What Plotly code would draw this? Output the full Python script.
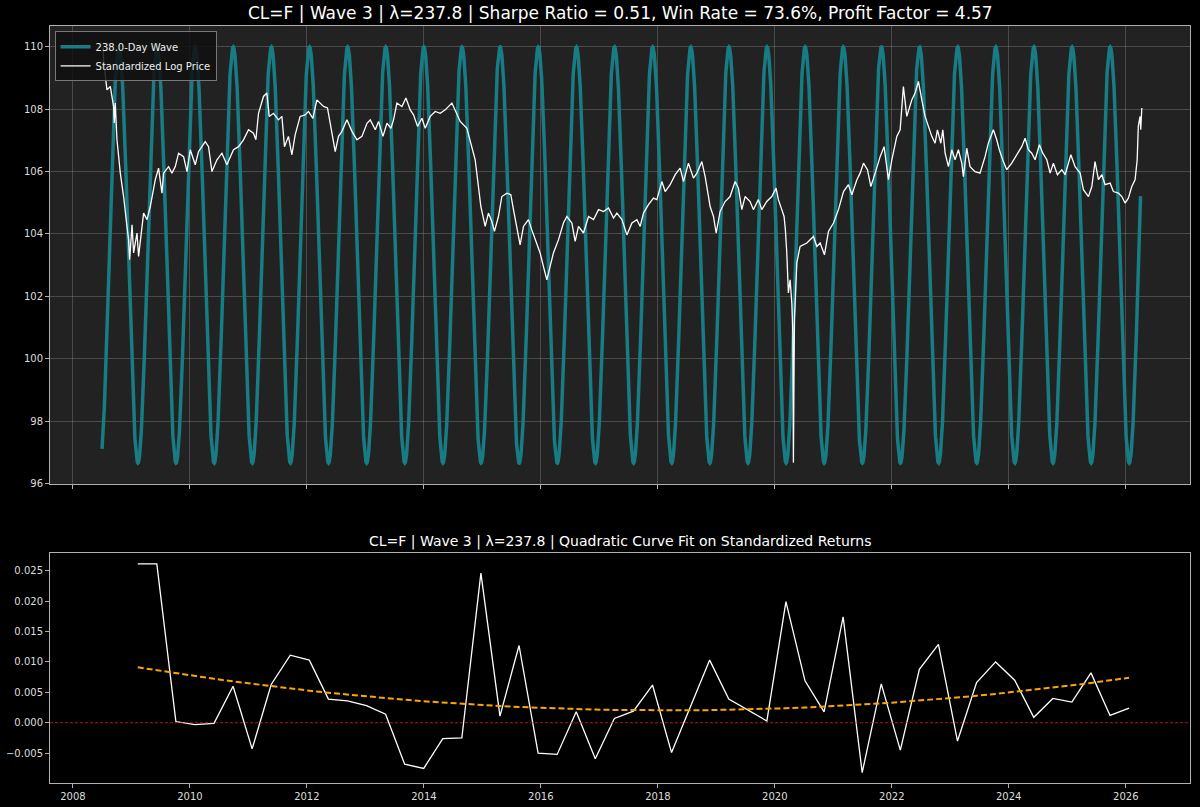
import numpy as np
import pandas as pd
import plotly.graph_objects as go

# ---------------- data ----------------
PRICE_YEARS = [
    2008.518, 2008.523, 2008.581, 2008.638, 2008.694, 2008.706, 2008.723, 2008.752, 2008.809, 2008.838,
    2008.865, 2008.923, 2008.950, 2008.968, 2009.009, 2009.036, 2009.094, 2009.121, 2009.150, 2009.207,
    2009.265, 2009.321, 2009.407, 2009.463, 2009.521, 2009.549, 2009.634, 2009.692, 2009.749, 2009.805,
    2009.891, 2009.949, 2010.005, 2010.091, 2010.147, 2010.262, 2010.318, 2010.376, 2010.462, 2010.547,
    2010.632, 2010.745, 2010.831, 2010.916, 2011.002, 2011.087, 2011.128, 2011.173, 2011.258, 2011.316,
    2011.356, 2011.429, 2011.515, 2011.573, 2011.617, 2011.685, 2011.744, 2011.800, 2011.885, 2011.971,
    2012.027, 2012.103, 2012.171, 2012.284, 2012.352, 2012.410, 2012.484, 2012.540, 2012.598, 2012.684,
    2012.769, 2012.855, 2012.940, 2013.026,
    2013.082, 2013.168, 2013.224, 2013.299, 2013.368, 2013.436, 2013.480, 2013.538, 2013.624, 2013.692,
    2013.766, 2013.822, 2013.891, 2013.966, 2014.022, 2014.108, 2014.193, 2014.279, 2014.364, 2014.479,
    2014.564, 2014.621, 2014.735, 2014.791, 2014.877, 2014.933, 2014.974, 2015.048, 2015.104, 2015.162,
    2015.207, 2015.275, 2015.333, 2015.419, 2015.487, 2015.532, 2015.590, 2015.646, 2015.703, 2015.788,
    2015.846, 2015.903, 2015.988, 2016.044, 2016.103, 2016.159, 2016.215, 2016.301, 2016.386, 2016.444,
    2016.530, 2016.586, 2016.643, 2016.728, 2016.814, 2016.899, 2016.985, 2017.070, 2017.155, 2017.241,
    2017.299, 2017.385, 2017.470, 2017.556, 2017.641, 2017.697,
    2017.754, 2017.839, 2017.925, 2017.983, 2018.068, 2018.125, 2018.210, 2018.296, 2018.381, 2018.438,
    2018.523, 2018.609, 2018.667, 2018.752, 2018.809, 2018.894, 2018.951, 2018.997, 2019.065, 2019.150,
    2019.236, 2019.321, 2019.378, 2019.436, 2019.492, 2019.578, 2019.634, 2019.720, 2019.778, 2019.863,
    2019.949, 2020.022, 2020.062, 2020.120, 2020.159, 2020.181, 2020.205, 2020.232, 2020.262, 2020.291,
    2020.308, 2020.318, 2020.335, 2020.376, 2020.432, 2020.547, 2020.660, 2020.718, 2020.774, 2020.848,
    2020.916, 2021.002, 2021.087, 2021.173, 2021.258, 2021.316, 2021.402, 2021.458, 2021.515, 2021.583,
    2021.641, 2021.715, 2021.800, 2021.868, 2021.942, 2022.000, 2022.085,
    2022.142, 2022.198, 2022.256, 2022.342, 2022.398, 2022.455, 2022.513, 2022.569, 2022.626, 2022.684,
    2022.740, 2022.780, 2022.838, 2022.872, 2022.912, 2022.968, 2023.026, 2023.082, 2023.139, 2023.197,
    2023.224, 2023.282, 2023.338, 2023.424, 2023.509, 2023.595, 2023.651, 2023.737, 2023.795, 2023.839,
    2023.908, 2023.966, 2024.051, 2024.137, 2024.222, 2024.279, 2024.335, 2024.393, 2024.450, 2024.523,
    2024.581, 2024.650, 2024.706, 2024.762, 2024.831, 2024.906, 2024.962, 2025.019, 2025.060, 2025.133,
    2025.219, 2025.275, 2025.361, 2025.419, 2025.474, 2025.532, 2025.590, 2025.646, 2025.732, 2025.788,
    2025.874, 2025.932, 2025.988, 2026.044, 2026.103, 2026.159, 2026.195, 2026.214, 2026.244, 2026.256,
    2026.274,
]
PRICE_VALUES = [
    110.00, 109.58, 108.62, 108.73, 108.09, 107.56, 108.20, 107.02, 105.95, 105.63,
    105.20, 104.24, 103.81, 103.17, 104.29, 103.39, 104.03, 103.28, 103.81, 104.67,
    104.46, 104.88, 105.74, 106.11, 105.31, 105.95, 106.16, 105.95, 106.16, 106.59,
    106.48, 106.00, 106.70, 106.22, 106.64, 106.96, 106.80, 106.00, 106.38, 106.59,
    106.22, 106.70, 106.80, 107.02, 107.34, 107.23, 107.02, 107.87, 108.41, 108.52,
    107.77, 107.87, 107.66, 107.77, 106.80, 107.13, 106.54, 107.18, 107.77, 107.82,
    107.93, 107.71, 108.30, 108.09, 108.04, 107.45, 106.64, 107.13, 107.29, 107.66,
    107.29, 107.02, 107.13, 107.55,
    107.66, 107.34, 107.61, 107.13, 107.55, 107.39, 107.66, 108.20, 108.09, 108.36,
    107.98, 107.82, 107.45, 107.71, 107.39, 107.77, 107.93, 107.87, 107.98, 108.20,
    107.87, 107.61, 107.39, 106.96, 106.38, 105.52, 104.88, 104.24, 104.67, 104.40,
    104.08, 104.56, 105.20, 105.31, 105.26, 104.78, 104.24, 103.65, 104.24, 104.46,
    104.13, 103.81, 103.39, 102.96, 102.53, 102.96, 103.39, 103.81, 104.35, 104.56,
    104.35, 103.76, 104.24, 104.03, 104.56, 104.46, 104.78, 104.72, 104.83, 104.51,
    104.67, 104.46, 103.97, 104.35, 104.46, 104.24,
    104.67, 104.94, 105.15, 105.10, 105.68, 105.36, 105.58, 105.90, 106.11, 105.68,
    106.27, 105.79, 105.95, 106.32, 105.84, 104.88, 104.56, 104.03, 104.72, 105.04,
    105.20, 105.68, 105.47, 104.78, 105.20, 105.04, 104.78, 105.10, 104.78, 105.04,
    105.20, 105.47, 105.10, 104.78, 104.56, 104.13, 103.39, 102.11, 102.53, 101.78,
    100.82, 96.66, 101.25, 103.07, 103.60, 103.71, 103.92, 103.60, 103.71, 103.33,
    104.08, 104.35, 104.78, 105.36, 105.58, 105.26, 105.74, 105.95, 106.27, 106.06,
    105.52, 105.95, 106.48, 106.80, 105.74, 106.38, 107.13,
    107.34, 108.73, 107.77, 108.30, 108.52, 108.89, 108.30, 107.77, 107.45, 107.13,
    106.91, 107.34, 106.91, 107.34, 106.59, 106.16, 106.70, 106.38, 106.70, 106.27,
    105.84, 106.75, 106.16, 106.00, 105.95, 106.48, 106.91, 107.34, 107.02, 106.70,
    106.32, 106.06, 106.27, 106.54, 106.80, 107.07, 106.70, 106.59, 106.38, 106.86,
    106.59, 106.38, 105.95, 106.27, 105.90, 106.06, 105.90, 106.27, 106.54, 106.16,
    105.95, 105.42, 105.20, 105.52, 106.32, 105.74, 105.90, 105.58, 105.63, 105.36,
    105.31, 105.20, 104.99, 105.15, 105.52, 105.74, 106.38, 107.45, 107.77, 107.34,
    108.04,
]

# 238-day wave parameters
WAVE_PERIOD_DAYS = 238.1
WAVE_FIRST_TROUGH = "2009-02-10"
WAVE_MAX = 110.0
WAVE_MIN = 96.65
WAVE_START = "2008-07-01"
WAVE_END = "2026-04-03"

# standardized returns, one per half wave
RETURN_START = "2009-02-09"
RETURN_STEP_DAYS = 119.05
RETURN_VALUES = [
    0.0261, 0.0261, 0.0002, -0.0003, -0.0001, 0.0060, -0.0043, 0.0063, 0.0111, 0.0103,
    0.0039, 0.0036, 0.0028, 0.0014, -0.0068, -0.0075, -0.0026, -0.0025, 0.0246, 0.0011,
    0.0127, -0.0050, -0.0052, 0.0018, -0.0059, 0.0007, 0.0019, 0.0062, -0.0049, 0.0026,
    0.0103, 0.0039, 0.0021, 0.0003, 0.0199, 0.0069, 0.0018, 0.0174, -0.0082, 0.0064,
    -0.0045, 0.0088, 0.0129, -0.0030, 0.0066, 0.0100, 0.0070, 0.0009, 0.0040, 0.0034,
    0.0082, 0.0012, 0.0024,
]

TITLE_TOP = "CL=F | Wave 3 | λ=237.8 | Sharpe Ratio = 0.51, Win Rate = 73.6%, Profit Factor = 4.57"
TITLE_BOTTOM = "CL=F | Wave 3 | λ=237.8 | Quadratic Curve Fit on Standardized Returns"
WAVE_LABEL = "238.0-Day Wave"
PRICE_LABEL = "Standardized Log Price"


def year_to_date(y):
    yr = int(np.floor(y))
    start = pd.Timestamp(year=yr, month=1, day=1)
    end = pd.Timestamp(year=yr + 1, month=1, day=1)
    return start + (end - start) * (y - yr)


price_dates = [year_to_date(y) for y in PRICE_YEARS]

wave_dates = pd.date_range(WAVE_START, WAVE_END, freq="D")
t_days = (wave_dates - pd.Timestamp(WAVE_FIRST_TROUGH)).days.values.astype(float)
mid = (WAVE_MAX + WAVE_MIN) / 2
amp = (WAVE_MAX - WAVE_MIN) / 2
wave_vals = mid - amp * np.cos(2 * np.pi * t_days / WAVE_PERIOD_DAYS)

ret_dates = [pd.Timestamp(RETURN_START) + pd.Timedelta(days=RETURN_STEP_DAYS * k)
             for k in range(len(RETURN_VALUES))]
k_idx = np.arange(len(RETURN_VALUES))
coef = np.polyfit(k_idx, RETURN_VALUES, 2)
fit_vals = np.polyval(coef, k_idx)

# ---------------- figure ----------------
FONT = "DejaVu Sans"
TEXT = "#dddddd"
AXIS = "#b0b0b0"

fig = go.Figure()
fig.add_trace(go.Scatter(x=wave_dates, y=wave_vals, mode="lines", name=WAVE_LABEL,
                         line=dict(color="#187c84", width=3.5), xaxis="x", yaxis="y"))
fig.add_trace(go.Scatter(x=price_dates, y=PRICE_VALUES, mode="lines", name=PRICE_LABEL,
                         line=dict(color="#ffffff", width=1.3), xaxis="x", yaxis="y"))
fig.add_trace(go.Scatter(x=ret_dates, y=RETURN_VALUES, mode="lines", showlegend=False,
                         line=dict(color="#ffffff", width=1.3), xaxis="x2", yaxis="y2"))
fig.add_trace(go.Scatter(x=ret_dates, y=fit_vals, mode="lines", showlegend=False,
                         line=dict(color="#ffa500", width=2, dash="6px,3px"), xaxis="x2", yaxis="y2"))

x_range = ["2007-08-11", "2027-02-06"]
common_axis = dict(showline=True, mirror=True, linecolor=AXIS, linewidth=1,
                   ticks="outside", ticklen=4, tickcolor=AXIS, automargin=False,
                   tickfont=dict(family=FONT, size=10, color=TEXT), zeroline=False)

fig.update_layout(
    width=1200, height=807,
    paper_bgcolor="#000000",
    margin=dict(l=50, r=10, t=26, b=24, autoexpand=False),
    font=dict(family=FONT, color=TEXT),
    xaxis=dict(domain=[0, 1], anchor="y", range=x_range, matches="x2", showticklabels=False,
               showgrid=True, gridcolor="rgba(150,150,150,0.35)", gridwidth=1,
               tick0="2008-01-01", dtick="M24", **common_axis),
    yaxis=dict(domain=[0.395, 1], anchor="x", range=[95.98, 110.67], dtick=2, tick0=96,
               showgrid=True, gridcolor="rgba(150,150,150,0.35)", gridwidth=1, **common_axis),
    xaxis2=dict(domain=[0, 1], anchor="y2", range=x_range, showgrid=False,
                tick0="2008-01-01", dtick="M24", tickformat="%Y", **common_axis),
    yaxis2=dict(domain=[0, 0.3038], anchor="x2", range=[-0.0099, 0.0279], dtick=0.005,
                tick0=0, tickformat=".3f", showgrid=False, **common_axis),
    plot_bgcolor="#222222",
    legend=dict(x=0.004, y=0.993, xanchor="left", yanchor="top",
                bgcolor="rgba(15,15,15,0.85)", bordercolor="#777777", borderwidth=1,
                font=dict(family=FONT, size=10, color="#eeeeee"),
                tracegroupgap=0, itemwidth=30),
    annotations=[
        dict(text=TITLE_TOP, xref="paper", yref="paper", x=0.5, y=1.0, yshift=13,
             showarrow=False, font=dict(family=FONT, size=17, color="#ffffff"), yanchor="middle"),
        dict(text=TITLE_BOTTOM, xref="paper", yref="paper", x=0.5, y=0.3038, yshift=12,
             showarrow=False, font=dict(family=FONT, size=14, color="#ffffff"), yanchor="middle"),
    ],
    shapes=[
        # black background for the lower panel
        dict(type="rect", xref="x2 domain", yref="y2 domain", x0=0, x1=1, y0=0, y1=1,
             fillcolor="#000000", line=dict(width=0), layer="below"),
        dict(type="line", xref="x2 domain", yref="y2", x0=0, x1=1, y0=0, y1=0,
             line=dict(color="rgba(220,30,30,0.8)", width=1, dash="3px,2px")),
    ],
)

fig.write_html(
    "out.html",
    config={"displayModeBar": False},
    post_script="document.body.style.margin='0px';document.body.style.background='#000000';",
)
